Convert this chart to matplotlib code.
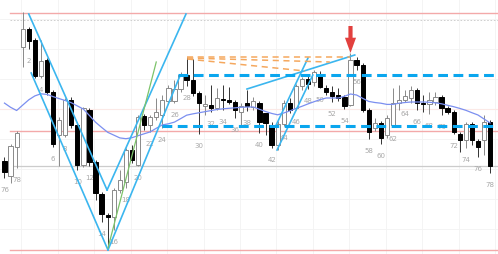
import matplotlib
matplotlib.use('Agg')
import matplotlib.pyplot as plt

# ---- candle data (bar index 0..80) ----
opens  = [93, 78, 107, 207, 225, 214, 178, 194, 162, 119, 119, 154, 129, 89, 144, 92, 60, 39, 37, 64,
          72, 104, 89, 138, 129, 137, 139, 153, 153, 165, 179, 174, 161, 148, 149, 146, 155, 154, 152, 142,
          151, 147, 151, 141, 129, 109, 130, 151, 146, 168, 175, 172, 180, 166, 162, 159, 157, 149, 194, 189,
          144, 126, 131, 119, 129, 151, 154, 156, 164, 151, 150, 152, 157, 146, 142, 120, 114, 130, 113, 114, 132]
highs  = [97, 110, 123, 242, 227, 216, 214, 196, 164, 137, 156, 157, 132, 147, 146, 94, 62, 41, 66, 84,
          106, 109, 139, 140, 139, 156, 159, 169, 174, 182, 197, 195, 163, 159, 169, 166, 169, 167, 154, 151,
          164, 157, 153, 141, 132, 133, 154, 156, 170, 177, 178, 184, 183, 169, 168, 166, 159, 201, 197, 191,
          146, 136, 133, 139, 166, 169, 164, 168, 166, 159, 162, 162, 159, 148, 144, 122, 132, 132, 115, 139, 134]
lows   = [76, 71, 86, 187, 205, 176, 176, 159, 107, 88, 117, 126, 84, 87, 88, 54, 32, 5, 24, 61,
          66, 91, 88, 124, 122, 134, 126, 151, 151, 162, 168, 158, 120, 139, 142, 144, 144, 150, 136, 129,
          143, 144, 121, 119, 106, 104, 128, 141, 144, 164, 165, 168, 166, 159, 152, 153, 145, 148, 184, 142,
          115, 123, 110, 116, 127, 144, 152, 151, 144, 142, 140, 149, 139, 140, 120, 102, 106, 109, 97, 99, 81]
closes = [82, 108, 121, 225, 213, 178, 193, 162, 110, 134, 154, 129, 89, 146, 92, 61, 40, 37, 64, 74,
          104, 94, 137, 129, 137, 142, 154, 166, 165, 179, 174, 161, 151, 150, 146, 156, 154, 152, 144, 148,
          148, 153, 132, 131, 109, 130, 151, 144, 168, 175, 170, 182, 167, 162, 158, 156, 148, 194, 189, 144,
          122, 131, 116, 136, 151, 154, 158, 164, 151, 150, 154, 157, 146, 142, 122, 114, 130, 114, 107, 132, 88]
ma_line = [150.9, 146.7, 143.5, 148.9, 154.2, 158.1, 160.2, 159.6, 157.4, 155.4, 153.5, 151.3, 148.1, 144.9,
           138.4, 131.8, 126.6, 121.7, 118.9, 116.1, 115.3, 116.3, 118.3, 120.2, 122.1, 125.7, 129.1, 130.2,
           131.9, 135.3, 138.8, 140.1, 141.2, 142.3, 143.4, 144.5, 145.2, 145.7, 146.2, 146.7, 147.0, 147.0,
           144.7, 142.5, 140.6, 139.2, 141.0, 143.1, 145.5, 147.7, 150.1, 152.3, 154.4, 156.0, 156.0, 156.0,
           157.7, 160.0, 159.0, 155.7, 152.6, 151.5, 150.8, 149.6, 149.6, 150.8, 151.5, 152.0, 152.0, 152.0,
           151.7, 151.2, 150.2, 148.7, 147.3, 145.6, 143.7, 141.3, 139.0, 135.0, 131.0]

label_bars  = [0, 2, 4, 6, 8, 10, 12, 14, 16, 18, 20, 22, 24, 26, 28, 30, 32, 34, 36, 38, 40,
               42, 44, 46, 48, 50, 52, 54, 56, 58, 60, 62, 64, 66, 68, 70, 72, 74, 76, 78, 80]
label_texts = ['76', '78', '2', '4', '6', '8', '10', '12', '14', '16', '18', '20', '22', '24', '26', '28',
               '30', '32', '34', '36', '38', '40', '42', '44', '46', '48', '50', '52', '54', '56', '58',
               '60', '62', '64', '66', '68', '70', '72', '74', '76', '78']

# ---- drawn annotations (bar index, price) ----
channel_down = [[(4.0, 240), (16.9, 64)], [(4.4, 181), (17.05, 4)]]
channel_up   = [[(16.9, 64), (29.9, 240)], [(17.05, 4), (28.9, 178)]]
green_line   = [(17.05, 6), (25.0, 192)]
mid_lines    = [[(39.95, 165), (57.7, 199)], [(44.6, 127), (50.0, 196)], [(44.9, 104), (50.8, 179)]]
orange_fan   = [[(30.1, 197), (57.0, 197)], [(30.1, 196), (53.6, 192)], [(30.1, 195), (49.5, 183)]]
dash_levels  = [(28.6, 179), (25.9, 128)]
gray_level   = 88
dotted_level = 234
faint_level  = 145
arrow_bar    = 57
arrow_span   = (228, 201)

fig = plt.figure(figsize=(4.98, 2.54), dpi=100)
ax = fig.add_axes([0, 0, 1, 1])
ax.set_xlim(-0.74, 81.3)
ax.set_ylim(0, 254)
ax.axis('off')

# grid
for gx in [2.8 + 6 * j for j in range(14)]:
    ax.axvline(gx, color='#f2f2f2', lw=0.6, zorder=0)
for gy in [25, 55, 85, 115, 145, 175, 205, 235]:
    ax.axhline(gy, color='#f3f3f3', lw=0.6, zorder=0)

hi = max(highs)
lo = min(lows)
xr = (0.9 + 0.74) / 82.04
for lvl in [hi - 0.5, (hi + lo) / 2, lo - 1]:
    ax.axhline(lvl, xmin=xr, color='#f3a9a9', lw=1.0, zorder=1)
ax.axhline(gray_level, xmin=xr, color='#cccccc', lw=0.9, zorder=1)
ax.axhline(dotted_level, xmin=xr, color='#c8c8c8', lw=0.6, ls=(0, (2, 2)), zorder=1)
ax.axhline(faint_level, color='#fbe9e6', lw=0.8, zorder=1)

# labels
for b, t in zip(label_bars, label_texts):
    ax.text(b, lows[b] - 12, t, fontsize=5, color='#a8a8a8', ha='center', va='center', zorder=2)

# candles
for i, (o, h, l, c) in enumerate(zip(opens, highs, lows, closes)):
    up = c >= o
    ax.vlines(i, l, h, color='#8a8a8a' if up else '#333333', lw=0.7, zorder=3)
    bot = min(o, c)
    ht = max(abs(c - o), 1.2)
    ax.bar(i, ht, bottom=bot, width=0.7,
           color='white' if up else 'black',
           edgecolor='#8a8a8a' if up else 'black', lw=0.7, zorder=4)

# moving average
ax.plot(range(len(ma_line)), ma_line, color='#7b8ff0', lw=0.9, zorder=5)

cyan = '#3bb6ef'
for seg in channel_down + channel_up + mid_lines:
    (x0, y0), (x1, y1) = seg
    ax.plot([x0, x1], [y0, y1], color=cyan, lw=1.2, zorder=6)
(x0, y0), (x1, y1) = green_line
ax.plot([x0, x1], [y0, y1], color='#7cc36a', lw=0.9, zorder=6)

for seg in orange_fan:
    (x0, y0), (x1, y1) = seg
    ax.plot([x0, x1], [y0, y1], color='#f5a85e', lw=1.1, ls=(0, (4, 3)), zorder=6)

for xs, lvl in dash_levels:
    ax.plot([xs, 81.3], [lvl, lvl], color='#0aa6ee', lw=2.2, ls=(0, (3.2, 1.8)), zorder=7)

ax.annotate('', xy=(arrow_bar, arrow_span[1]), xytext=(arrow_bar, arrow_span[0]),
            arrowprops=dict(width=3, headwidth=8, headlength=11, color='#e2403e', lw=0),
            zorder=8)

fig.savefig('out.png', dpi=100)
